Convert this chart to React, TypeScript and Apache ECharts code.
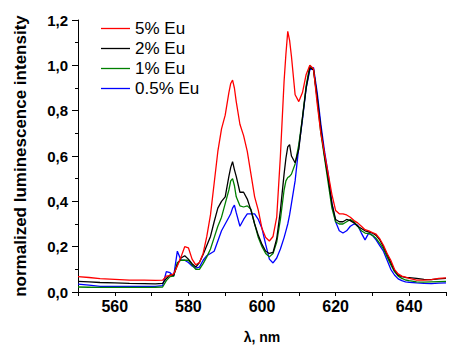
import React, { useEffect, useRef } from "react";
import * as echarts from "echarts";

const wavelengths = [
  550, 553, 556, 560, 564, 568, 571, 573, 574, 575, 576, 577, 578, 579, 580, 581, 582, 583, 584, 585,
  586, 587, 588, 589, 590, 591, 591.5, 592, 592.5, 593, 594, 595, 596, 597, 598, 599, 600, 601, 602, 603,
  604, 605, 606, 606.5, 607, 607.5, 608, 609, 610, 611, 612, 613, 614, 615, 616, 617, 618, 619, 620, 621,
  622, 623, 624, 625, 626, 627, 628, 629, 630, 631, 632, 633, 634, 635, 636, 637, 638, 639, 640, 642,
  644, 646, 648, 650,
];

const eu5 = [
  0.068, 0.064, 0.059, 0.056, 0.052, 0.052, 0.051, 0.052, 0.07, 0.072, 0.08, 0.115, 0.155, 0.2, 0.195, 0.145, 0.12, 0.13, 0.17, 0.245,
  0.34, 0.48, 0.62, 0.72, 0.78, 0.88, 0.92, 0.935, 0.9, 0.84, 0.74, 0.69, 0.62, 0.52, 0.42, 0.36, 0.28, 0.24, 0.225, 0.245,
  0.33, 0.6, 0.93, 1.05, 1.15, 1.11, 1.04, 0.87, 0.84, 0.88, 0.96, 1.0, 0.985, 0.83, 0.7, 0.61, 0.52, 0.43, 0.36, 0.345,
  0.345, 0.34, 0.33, 0.315, 0.305, 0.29, 0.275, 0.27, 0.262, 0.255, 0.235, 0.206, 0.17, 0.14, 0.1, 0.08, 0.07, 0.066, 0.06, 0.052,
  0.052, 0.055, 0.06, 0.062,
];

const eu2 = [
  0.047, 0.045, 0.042, 0.04, 0.038, 0.037, 0.036, 0.038, 0.06, 0.075, 0.075, 0.12, 0.15, 0.16, 0.145, 0.125, 0.11, 0.13, 0.165, 0.205,
  0.245, 0.31, 0.37, 0.4, 0.42, 0.51, 0.55, 0.575, 0.54, 0.51, 0.44, 0.44, 0.41, 0.36, 0.3, 0.25, 0.21, 0.18, 0.17, 0.175,
  0.235, 0.36, 0.52, 0.59, 0.64, 0.65, 0.6, 0.57, 0.63, 0.77, 0.9, 0.99, 0.98, 0.86, 0.72, 0.6, 0.5, 0.39, 0.32, 0.31,
  0.31, 0.32, 0.315, 0.305, 0.29, 0.28, 0.27, 0.265, 0.26, 0.25, 0.23, 0.2, 0.165, 0.13, 0.095, 0.074, 0.068, 0.064, 0.063, 0.06,
  0.056, 0.055, 0.058, 0.06,
];

const eu1 = [
  0.022, 0.021, 0.02, 0.02, 0.02, 0.02, 0.021, 0.022, 0.05, 0.068, 0.07, 0.13, 0.14, 0.14, 0.14, 0.12, 0.1, 0.1, 0.125, 0.155,
  0.19, 0.24, 0.29, 0.33, 0.39, 0.45, 0.49, 0.5, 0.47, 0.42, 0.38, 0.375, 0.38, 0.365, 0.3, 0.24, 0.2, 0.17, 0.155, 0.17,
  0.22, 0.32, 0.45, 0.49, 0.505, 0.51, 0.52, 0.565, 0.65, 0.77, 0.91, 1.0, 0.98, 0.85, 0.7, 0.59, 0.48, 0.37, 0.31, 0.3,
  0.3, 0.31, 0.32, 0.31, 0.29, 0.27, 0.26, 0.258, 0.25, 0.237, 0.215, 0.19, 0.155, 0.12, 0.09, 0.07, 0.06, 0.053, 0.05, 0.045,
  0.044, 0.045, 0.046, 0.047,
];

const eu05 = [
  0.035, 0.03, 0.025, 0.025, 0.025, 0.025, 0.025, 0.028, 0.09, 0.085, 0.07, 0.18, 0.14, 0.14, 0.13, 0.115, 0.105, 0.11, 0.14, 0.16,
  0.17, 0.18, 0.225, 0.27, 0.3, 0.33, 0.345, 0.37, 0.383, 0.35, 0.29, 0.32, 0.345, 0.345, 0.345, 0.32, 0.28, 0.21, 0.145, 0.128,
  0.15, 0.19, 0.24, 0.27, 0.3, 0.34, 0.39, 0.49, 0.64, 0.76, 0.9, 0.98, 0.99, 0.88, 0.74, 0.62, 0.52, 0.39, 0.31, 0.27,
  0.26, 0.27, 0.29, 0.3, 0.295, 0.26, 0.23, 0.26, 0.25, 0.23, 0.205, 0.18, 0.14, 0.1, 0.075, 0.058, 0.05, 0.045, 0.043, 0.04,
  0.038, 0.037, 0.039, 0.04,
];

const seriesNames = ["5% Eu", "2% Eu", "1% Eu", "0.5% Eu"];
const seriesColors = ["#ff0000", "#000000", "#008000", "#0000ff"];
const seriesValues = [eu5, eu2, eu1, eu05];

const xTickLabels = [560, 580, 600, 620, 640];

const FONT = '"Liberation Sans", Arial, sans-serif';

export default function App() {
  const ref = useRef<HTMLDivElement>(null);
  useEffect(() => {
    document.body.style.margin = "0";
    const chart = echarts.init(ref.current!, null, { renderer: "svg" });
    chart.setOption({
      animation: false,
      backgroundColor: "#ffffff",
      grid: { left: 78, right: 21, top: 20, bottom: 62, containLabel: false },
      legend: {
        orient: "vertical",
        left: 96,
        top: 15,
        icon: "rect",
        itemWidth: 29,
        itemHeight: 1.3,
        itemGap: 3,
        data: seriesNames,
        textStyle: { fontFamily: FONT, fontSize: 17, color: "#000", lineHeight: 17 },
      },
      xAxis: {
        type: "value",
        min: 550,
        max: 650,
        interval: 10,
        name: "λ, nm",
        nameLocation: "middle",
        nameGap: 38,
        nameTextStyle: { fontFamily: FONT, fontSize: 14, fontWeight: "bold", color: "#000" },
        axisLine: { show: true, onZero: false, lineStyle: { color: "#000", width: 1 } },
        axisTick: { show: true, length: 4, lineStyle: { color: "#000" } },
        axisLabel: {
          interval: 0,
          margin: 6,
          fontFamily: FONT,
          fontSize: 16,
          fontWeight: "bold",
          color: "#000",
          formatter: (v: number) => (xTickLabels.includes(v) ? String(v) : ""),
        },
        splitLine: { show: false },
      },
      yAxis: {
        type: "value",
        min: 0,
        max: 1.2,
        interval: 0.2,
        name: "normalized luminescence intensity",
        nameLocation: "middle",
        nameGap: 49,
        nameTextStyle: { fontFamily: FONT, fontSize: 17, fontWeight: "bold", color: "#000" },
        axisLine: { show: true, onZero: false, lineStyle: { color: "#000", width: 1 } },
        axisTick: { show: true, length: 6, lineStyle: { color: "#000" } },
        minorTick: { show: true, splitNumber: 2, length: 3, lineStyle: { color: "#000" } },
        axisLabel: {
          margin: 10,
          fontFamily: FONT,
          fontSize: 15,
          fontWeight: "bold",
          color: "#000",
          formatter: (v: number) => v.toFixed(1).replace(".", ","),
        },
        splitLine: { show: false },
      },
      series: seriesNames.map((name, i) => ({
        name,
        type: "line",
        symbol: "none",
        showSymbol: false,
        data: wavelengths.map((w, j) => [w, seriesValues[i][j]]),
        lineStyle: { color: seriesColors[i], width: 1.3 },
        itemStyle: { color: seriesColors[i] },
        z: 10 - i,
      })),
    });
    return () => chart.dispose();
  }, []);
  return <div ref={ref} style={{ width: 467, height: 354, position: "absolute", left: 0, top: 0 }} />;
}
